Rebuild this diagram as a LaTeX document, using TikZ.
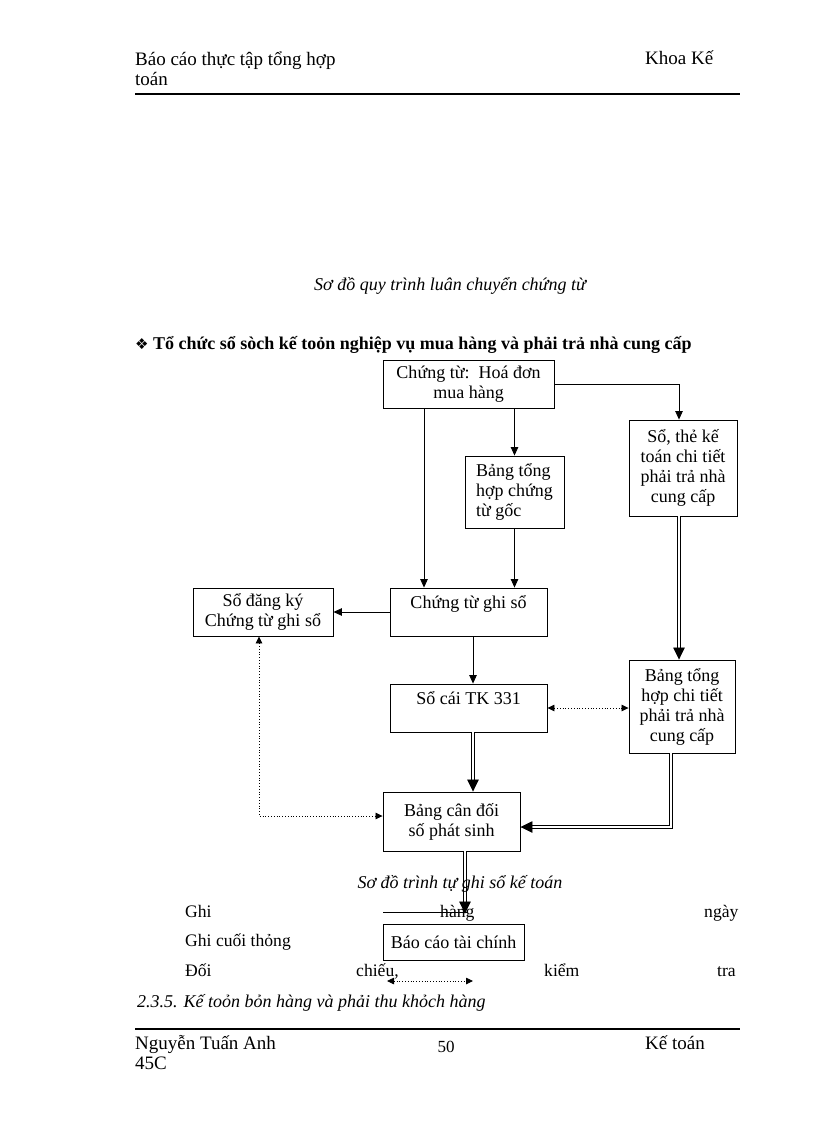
\documentclass[tikz,border=0pt]{standalone}
\usepackage{fontspec}
\setmainfont{Liberation Serif}
\newfontfamily\symfont{DejaVu Sans}
\usetikzlibrary{arrows.meta,calc}
\begin{document}
\begin{tikzpicture}[x=1pt,y=-1pt,
  box/.style={draw,line width=0.9pt,align=center,inner sep=2pt,
    font=\fontsize{18}{20}\selectfont},
  txt/.style={inner sep=0pt,anchor=base west,font=\fontsize{19}{22}\selectfont},
  capt/.style={inner sep=0pt,anchor=base,font=\fontsize{18}{20}\selectfont\itshape},
  leg/.style={inner sep=0pt,anchor=base west,font=\fontsize{17.6}{20}\selectfont},
  arr/.style={line width=0.8pt,-{Triangle[length=8.5pt,width=7.5pt]}},
  dbl/.style={double,double distance=1.6pt,line width=0.8pt,-{Triangle[length=12pt,width=11.5pt]}},
  dotarr/.style={dotted,line width=0.8pt,{Triangle[length=7pt,width=6.5pt]}-{Triangle[length=7pt,width=6.5pt]}},
  hrule/.style={line width=2pt}]
\useasboundingbox (0,0) rectangle (816,1123);
% header
\node[txt] (h1) at (135,66) {Báo cáo thực tập tổng hợp};
\node[txt] (h2) at (135,86) {toán};
\node[txt] (h3) at (645,65) {Khoa Kế};
\coordinate (r1a) at (135,94); \coordinate (r1b) at (740,94);
\draw[hrule] (r1a) -- (r1b);
% captions
\node[capt] (c1) at (450,290) {Sơ đồ quy trình luân chuyển chứng từ};
\node[txt,font=\fontsize{18}{20}\selectfont\bfseries] (hd) at (135,349) {{\symfont\fontsize{15}{16}\selectfont ❖}\ Tổ chức sổ sòch kế toỏn nghiệp vụ mua hàng và phải trả nhà cung cấp};
% boxes
\node[box,minimum width=171pt,minimum height=48pt] (b1) at (468.5,384) {Chứng từ:\ \ Hoá đơn\\mua hàng};
\node[box,align=left,minimum width=99pt,minimum height=72pt] (b2) at (514.5,492) {Bảng tổng\\hợp chứng\\từ gốc};
\node[box,minimum width=108pt,minimum height=96pt] (b3) at (683,468) {Sổ, thẻ kế\\toán chi tiết\\phải trả nhà\\cung cấp};
\node[box,minimum width=140pt,minimum height=48pt] (b4) at (263,612) {Sổ đăng ký\\Chứng từ ghi sổ};
\node[box,minimum width=157pt,minimum height=48pt] (b5) at (468.5,612) {Chứng từ ghi sổ\\\mbox{}};
\node[box,minimum width=157pt,minimum height=48pt] (b6) at (468.5,708) {Sổ cái TK 331\\\mbox{}};
\node[box,minimum width=106pt,minimum height=93pt] (b7) at (682,706.5) {Bảng tổng\\hợp chi tiết\\phải trả nhà\\cung cấp};
\node[box,minimum width=137pt,minimum height=59pt] (b8) at (451.5,821.5) {Bảng cân đối\\số phát sinh};
\node[box,minimum width=141pt,minimum height=36pt] (b9) at (453.5,942) {Báo cáo tài chính};
% connectors
\draw[arr] ([xshift=46pt]b1.south) -- (b2.north);
\draw[arr] ([xshift=-44.5pt]b1.south) -- ([xshift=-44.5pt]b5.north);
\draw[arr] (b2.south) -- ([xshift=46pt]b5.north);
\draw[arr] (b1.east) -| ([xshift=-4pt]b3.north);
\draw[arr] (b5.west) -- (b4.east);
\draw[arr] ([xshift=4.5pt]b5.south) -- ([xshift=4.5pt]b6.north);
\draw[dbl] ([xshift=-4pt]b3.south) -- ([xshift=-3pt]b7.north);
\draw[dotarr] (b6.east) -- (b7.west |- b6.east);
\draw[dbl] ([xshift=4.5pt]b6.south) -- ([xshift=21.5pt]b8.north);
\draw[dbl] ([xshift=-11pt]b7.south) |- ([yshift=-5.5pt]b8.east);
\draw[dotarr] ([xshift=-4pt]b4.south) |- ([yshift=5.5pt]b8.west);
\draw[dbl,shorten >=10pt] ([xshift=13.5pt]b8.south) -- ([xshift=11.5pt]b9.north);
% caption 2 and legend
\node[capt] (c2) at (460,888) {Sơ đồ trình tự ghi sổ kế toán};
\node[leg] (l1a) at (185,917) {Ghi};
\node[leg] (l1b) at (440,917) {hàng};
\node[leg] (l1c) at (704,917) {ngày};
\coordinate (la) at (383,912); \coordinate (lb) at (468,912);
\draw[line width=0.8pt] (la) -- (lb);
\node[leg] (l2) at (185,946) {Ghi cuối thỏng};
\node[leg] (l3a) at (185,976) {Đối};
\node[leg] (l3b) at (356,976) {chiếu,};
\node[leg] (l3c) at (544,976) {kiểm};
\node[leg] (l3d) at (717,976) {tra};
\coordinate (da) at (387,981); \coordinate (db) at (473,981);
\draw[dotarr] (da) -- (db);
\node[capt,anchor=base west] (s235) at (137,1007) {2.3.5. Kế toỏn bỏn hàng và phải thu khỏch hàng};
% footer
\coordinate (r2a) at (135,1029); \coordinate (r2b) at (740,1029);
\draw[hrule] (r2a) -- (r2b);
\node[txt] (f1) at (135,1049) {Nguyễn Tuấn Anh};
\node[txt] (f2) at (135,1069) {45C};
\node[txt,anchor=base,font=\fontsize{17}{20}\selectfont] (f3) at (446,1052) {50};
\node[txt] (f4) at (645,1049) {Kế toán};
\end{tikzpicture}
\end{document}
